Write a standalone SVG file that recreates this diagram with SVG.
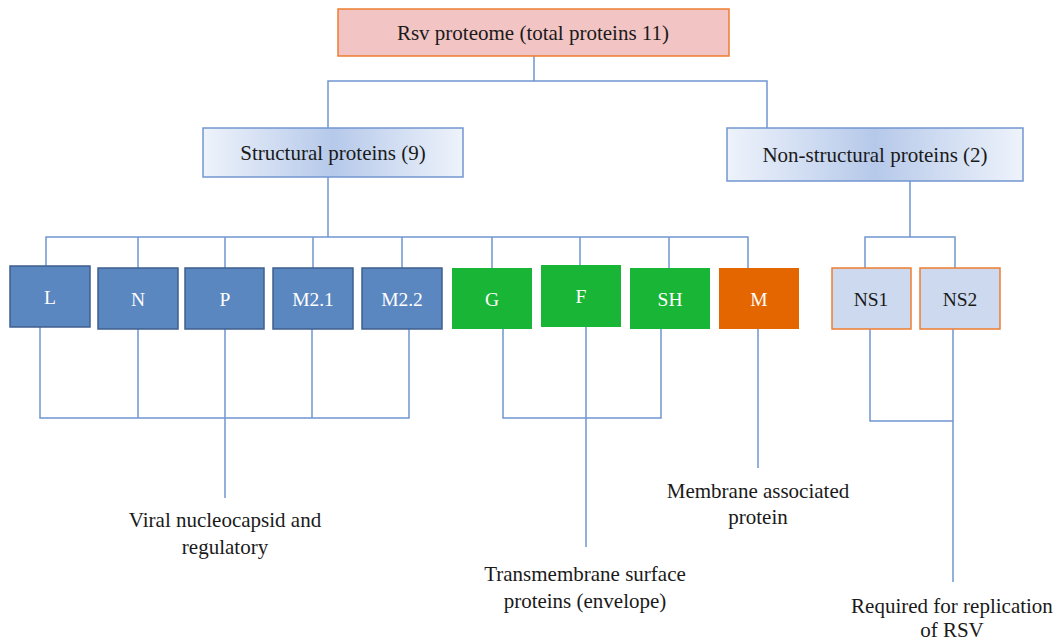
<svg xmlns="http://www.w3.org/2000/svg" width="1059" height="641" viewBox="0 0 1059 641">
<defs>
<linearGradient id="grad" x1="0" y1="0" x2="1" y2="0">
<stop offset="0" stop-color="#eef3fb"/>
<stop offset="0.5" stop-color="#b6c9ea"/>
<stop offset="1" stop-color="#eef3fb"/>
</linearGradient>
</defs>
<style>
text{font-family:"Liberation Serif","Times New Roman",serif;font-size:21px;text-anchor:middle;fill:#1a1a1a}
.w{fill:#ffffff}
.b{font-size:19.5px}
.blue{fill:#5b87c0;stroke:#3f5f8e;stroke-width:1.5}
.green{fill:#19b536}
.orange{fill:#e46600}
.ns{fill:#cdd9ef;stroke:#ed7d31;stroke-width:1.5}
.cat{fill:url(#grad);stroke:#7196d0;stroke-width:1.5}
.conn{fill:none;stroke:#7096d1;stroke-width:1.5}
</style>
<g id="connectors" class="conn">
<path d="M534 56V81M328 128V81H767V128"/>
<path d="M328 177V237M46 266V237H748V268M138 237V268M225 237V268M313 237V268M402 237V268M492 237V268M580 237V265M669 237V268"/>
<path d="M910 181V237M865 268V237H955V268"/>
<path d="M40 327V418H409V329M138 329V418M312 329V418M225 329V498"/>
<path d="M503 329V418H661V329M586 327V547"/>
<path d="M758 329V468"/>
<path d="M870 329V421H953M953 329V582"/>
</g>
<g id="root"><rect x="338" y="9" width="391" height="47" fill="#f2c4c4" stroke="#ed7d31" stroke-width="1.5"/><text x="533" y="40">Rsv proteome (total proteins 11)</text></g>
<g id="structural"><rect class="cat" x="203" y="128" width="260" height="49"/><text x="333" y="160">Structural proteins (9)</text></g>
<g id="nonstructural"><rect class="cat" x="727" y="128" width="296" height="53"/><text x="875" y="162">Non-structural proteins (2)</text></g>
<g id="L"><rect class="blue" x="10" y="266" width="80" height="61"/><text class="w b" x="50" y="304">L</text></g>
<g id="N"><rect class="blue" x="98" y="268" width="80" height="61"/><text class="w b" x="138" y="306">N</text></g>
<g id="P"><rect class="blue" x="185" y="268" width="79" height="61"/><text class="w b" x="225" y="306">P</text></g>
<g id="M21"><rect class="blue" x="273" y="268" width="80" height="61"/><text class="w b" x="313" y="306">M2.1</text></g>
<g id="M22"><rect class="blue" x="362" y="268" width="80" height="61"/><text class="w b" x="402" y="306">M2.2</text></g>
<g id="G"><rect class="green" x="452" y="268" width="80" height="61"/><text class="w b" x="492" y="306">G</text></g>
<g id="F"><rect class="green" x="541" y="265" width="80" height="62"/><text class="w b" x="581" y="303">F</text></g>
<g id="SH"><rect class="green" x="630" y="268" width="80" height="61"/><text class="w b" x="670" y="306">SH</text></g>
<g id="M"><rect class="orange" x="719" y="268" width="80" height="61"/><text class="w b" x="759" y="306">M</text></g>
<g id="NS1"><rect class="ns" x="832" y="268" width="79" height="61"/><text class="b" x="871" y="306">NS1</text></g>
<g id="NS2"><rect class="ns" x="920" y="268" width="80" height="61"/><text class="b" x="960" y="306">NS2</text></g>
<g id="label-nucleocapsid"><text x="225" y="527">Viral nucleocapsid and</text><text x="225" y="554">regulatory</text></g>
<g id="label-transmembrane"><text x="585" y="581">Transmembrane surface</text><text x="585" y="608">proteins (envelope)</text></g>
<g id="label-membrane"><text x="758" y="498">Membrane associated</text><text x="758" y="524">protein</text></g>
<g id="label-replication"><text x="952" y="613">Required for replication</text><text x="952" y="637">of RSV</text></g>
</svg>
